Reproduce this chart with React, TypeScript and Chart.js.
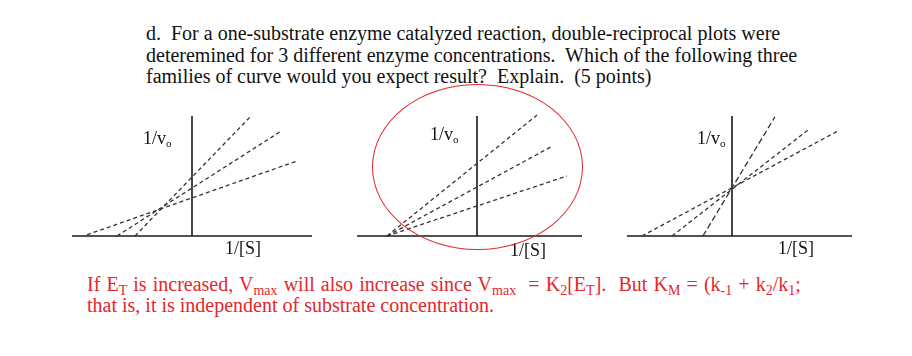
import React, { useEffect, useRef } from "react";
import { Chart, registerables } from "chart.js";

Chart.register(...registerables);

// ---- Data (1/[S] on x, 1/v0 on y, arbitrary units) ----
// Panel 1: lines cross above the x-axis, left of the y-axis
const panel1XRange = [-4, 4];
const panel1YRange = [0, 4];
const panel1Steep = [{ x: -1.9, y: 0 }, { x: 1.93, y: 3.96 }];
const panel1Mid = [{ x: -2.5, y: 0 }, { x: 2.93, y: 3.47 }];
const panel1Flat = [{ x: -3.5, y: 0.04 }, { x: 3.5, y: 2.5 }];

// Panel 2: lines meet on the x-axis (same Km, different Vmax)
const panel2XRange = [-4, 3.5];
const panel2YRange = [0, 4];
const panel2Steep = [{ x: -3, y: 0 }, { x: 2.0, y: 4.03 }];
const panel2Mid = [{ x: -3, y: 0 }, { x: 2.5, y: 2.99 }];
const panel2Flat = [{ x: -3, y: 0 }, { x: 3.0, y: 2.0 }];

// Panel 3: lines meet on the y-axis (same Vmax, different Km)
const panel3XRange = [-3.5, 4];
const panel3YRange = [0, 4];
const panel3Steep = [{ x: -0.97, y: 0 }, { x: 1.43, y: 3.97 }];
const panel3Mid = [{ x: -2.0, y: 0 }, { x: 2.53, y: 3.53 }];
const panel3Flat = [{ x: -3.0, y: 0 }, { x: 3.53, y: 3.5 }];

const questionLines = [
  "d.\u00a0 For a one-substrate enzyme catalyzed reaction, double-reciprocal plots were",
  "deteremined for 3 different enzyme concentrations.\u00a0 Which of the following three",
  "families of curve would you expect result?\u00a0 Explain.\u00a0 (5 points)",
];

const zeroAxesPlugin = {
  id: "zeroAxes",
  beforeDatasetsDraw(chart: any) {
    const { ctx, chartArea, scales } = chart;
    const x0 = scales.x.getPixelForValue(0);
    const y0 = scales.y.getPixelForValue(0);
    ctx.save();
    ctx.strokeStyle = "#1a1a1a";
    ctx.lineWidth = 1.6;
    ctx.beginPath();
    ctx.moveTo(chartArea.left, y0);
    ctx.lineTo(chartArea.right, y0);
    ctx.moveTo(x0, chartArea.bottom);
    ctx.lineTo(x0, chartArea.top);
    ctx.stroke();
    ctx.restore();
  },
};

const PAD = 4;

function Panel(props: {
  left: number;
  top: number;
  width: number;
  height: number;
  xRange: number[];
  yRange: number[];
  lines: { x: number; y: number }[][];
  dashes: number[][];
}) {
  const ref = useRef<HTMLCanvasElement | null>(null);
  useEffect(() => {
    if (!ref.current) return;
    const chart = new Chart(ref.current, {
      type: "scatter",
      data: {
        datasets: props.lines.map((pts, i) => ({
          data: pts,
          showLine: true,
          borderColor: "#333333",
          borderWidth: 1.3,
          borderDash: props.dashes[i],
          pointRadius: 0,
          fill: false,
          clip: false as any,
        })),
      },
      options: {
        responsive: false,
        animation: false,
        layout: { padding: PAD },
        plugins: { legend: { display: false }, tooltip: { enabled: false } },
        scales: {
          x: { type: "linear", display: false, min: props.xRange[0], max: props.xRange[1] },
          y: { type: "linear", display: false, min: props.yRange[0], max: props.yRange[1] },
        },
      },
      plugins: [zeroAxesPlugin],
    });
    return () => chart.destroy();
  }, []);
  return (
    <canvas
      ref={ref}
      width={props.width}
      height={props.height}
      style={{
        position: "absolute",
        left: props.left,
        top: props.top,
        width: props.width,
        height: props.height,
      }}
    />
  );
}

const subStyle: React.CSSProperties = {
  fontSize: "0.62em",
  verticalAlign: "-0.28em",
  lineHeight: 0,
};

const redSub: React.CSSProperties = {
  fontSize: "0.7em",
  verticalAlign: "-0.25em",
  lineHeight: 0,
};

function AxisLabels(props: { vx: number; vy: number; sx: number; sy: number }) {
  return (
    <>
      <span style={{ position: "absolute", left: props.vx, top: props.vy, fontSize: 18, lineHeight: "20px", whiteSpace: "nowrap" }}>
        1/v<sub style={subStyle}>o</sub>
      </span>
      <span style={{ position: "absolute", left: props.sx, top: props.sy, fontSize: 18, lineHeight: "20px", whiteSpace: "nowrap" }}>
        1/[S]
      </span>
    </>
  );
}

export default function App() {
  const red = "#e5262c";
  return (
    <div
      style={{
        position: "absolute",
        left: 0,
        top: 0,
        width: 912,
        height: 356,
        background: "#ffffff",
        fontFamily: "'Liberation Serif', 'Times New Roman', serif",
        color: "#111",
        overflow: "hidden",
      }}
    >
      <div style={{ position: "absolute", left: 146, top: 23, fontSize: 20, lineHeight: "21.5px", whiteSpace: "nowrap" }}>
        {questionLines.map((t, i) => (
          <div key={i}>{t}</div>
        ))}
      </div>

      <Panel left={68} top={112} width={248} height={128} xRange={panel1XRange} yRange={panel1YRange}
        lines={[panel1Steep, panel1Mid, panel1Flat]} dashes={[[4, 3], [4, 3], [4, 3]]} />
      <Panel left={353} top={112} width={233} height={128} xRange={panel2XRange} yRange={panel2YRange}
        lines={[panel2Steep, panel2Mid, panel2Flat]} dashes={[[4, 3], [4, 3], [4, 3]]} />
      <Panel left={623} top={112} width={233} height={128} xRange={panel3XRange} yRange={panel3YRange}
        lines={[panel3Steep, panel3Mid, panel3Flat]} dashes={[[6, 3], [4, 3], [4, 3]]} />

      <AxisLabels vx={143} vy={128} sx={225} sy={238} />
      <AxisLabels vx={430} vy={124} sx={510} sy={240} />
      <AxisLabels vx={697} vy={128} sx={778} sy={238} />

      <div
        style={{
          position: "absolute",
          left: 372,
          top: 84,
          width: 211,
          height: 166,
          border: `1.5px solid ${red}`,
          borderRadius: "50%",
          boxSizing: "border-box",
        }}
      />

      <div style={{ position: "absolute", left: 87, top: 274, color: red, fontSize: 20, lineHeight: "21px", whiteSpace: "nowrap" }}>
        <div style={{ wordSpacing: "1.1px" }}>
          If E<sub style={redSub}>T</sub> is increased, V<sub style={redSub}>max</sub> will also increase since V
          <sub style={redSub}>max</sub>&nbsp; = K<sub style={redSub}>2</sub>[E<sub style={redSub}>T</sub>].&nbsp; But K
          <sub style={redSub}>M</sub> = (k<sub style={redSub}>-1</sub> + k<sub style={redSub}>2</sub>/k
          <sub style={redSub}>1</sub>;
        </div>
        <div>that is, it is independent of substrate concentration.</div>
      </div>
    </div>
  );
}
